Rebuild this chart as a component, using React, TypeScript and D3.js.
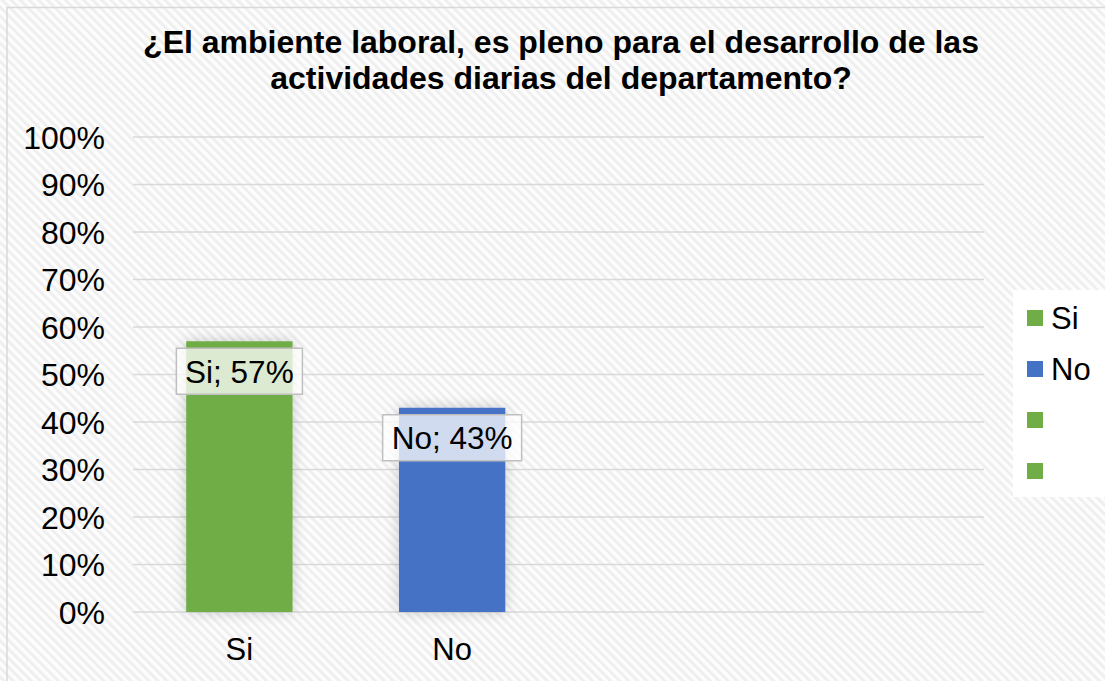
import React from "react";
import * as d3 from "d3";

const titleLines = [
  "¿El ambiente laboral, es pleno para el desarrollo de las",
  "actividades diarias del departamento?",
];
const categories = ["Si", "No", "", ""];
const values: (number | null)[] = [0.57, 0.43, null, null];
const barColors = ["#70AD47", "#4472C4", "#70AD47", "#70AD47"];
const legendLabels = ["Si", "No", "", ""];
const legendColors = ["#70AD47", "#4472C4", "#70AD47", "#70AD47"];
const yTicks = [0, 0.1, 0.2, 0.3, 0.4, 0.5, 0.6, 0.7, 0.8, 0.9, 1.0];

const W = 1105;
const H = 681;
const FONT = "'Liberation Sans', Arial, sans-serif";

export default function App() {
  const plotLeft = 133;
  const plotRight = 984;
  const plotTop = 137;
  const plotBottom = 612;

  const x = d3.scaleBand<string>()
    .domain(categories.map((c, i) => String(i)))
    .range([plotLeft, plotRight])
    .paddingInner(0.5)
    .paddingOuter(0.25);
  const y = d3.scaleLinear().domain([0, 1]).range([plotBottom, plotTop]);
  const fmt = d3.format(".0%");

  return (
    <svg
      width={W}
      height={H}
      style={{ position: "absolute", left: 0, top: 0, display: "block" }}
      fontFamily={FONT}
    >
      <defs>
        <pattern
          id="stripes"
          patternUnits="userSpaceOnUse"
          width={6.4}
          height={6.4}
          patternTransform="rotate(-45)"
        >
          <rect width={6.4} height={6.4} fill="#fdfdfd" />
          <rect width={3} height={6.4} fill="#efefef" />
        </pattern>
        <filter id="glow" x="-50%" y="-50%" width="200%" height="200%">
          <feGaussianBlur in="SourceAlpha" stdDeviation="7" result="blur" />
          <feFlood floodColor="#000" floodOpacity="0.2" />
          <feComposite in2="blur" operator="in" result="shadow" />
          <feMerge>
            <feMergeNode in="shadow" />
            <feMergeNode in="SourceGraphic" />
          </feMerge>
        </filter>
      </defs>

      <rect x={0} y={0} width={W} height={H} fill="url(#stripes)" />
      <rect
        x={7}
        y={7.5}
        width={W + 20}
        height={H + 20}
        fill="none"
        stroke="#d9d9d9"
        strokeWidth={1.5}
      />

      {titleLines.map((t, i) => (
        <text
          key={i}
          x={561}
          y={53 + i * 36}
          textAnchor="middle"
          fontSize={32}
          fontWeight="bold"
          fill="#000"
        >
          {t}
        </text>
      ))}

      {yTicks.map((t) => (
        <g key={t}>
          <line
            x1={plotLeft}
            x2={plotRight}
            y1={y(t)}
            y2={y(t)}
            stroke="#d9d9d9"
            strokeWidth={1.5}
          />
          <text
            x={105}
            y={y(t)}
            dy="0.36em"
            textAnchor="end"
            fontSize={32}
            fill="#000"
          >
            {fmt(t)}
          </text>
        </g>
      ))}

      {values.map((v, i) =>
        v == null ? null : (
          <rect
            key={i}
            x={x(String(i))}
            y={y(v)}
            width={x.bandwidth()}
            height={plotBottom - y(v)}
            fill={barColors[i]}
            filter="url(#glow)"
          />
        )
      )}

      {values.map((v, i) => {
        if (v == null) return null;
        const label = `${categories[i]}; ${fmt(v)}`;
        const cx = (x(String(i)) as number) + x.bandwidth() / 2;
        const cy = y(v) + 30;
        const w = i === 0 ? 126 : 139;
        const h = 46;
        return (
          <g key={"l" + i}>
            <rect
              x={cx - w / 2}
              y={cy - h / 2}
              width={w}
              height={h}
              fill="#fff"
              fillOpacity={0.75}
              stroke="#bfbfbf"
              strokeWidth={1.5}
            />
            <text
              x={cx}
              y={cy}
              dy="0.36em"
              textAnchor="middle"
              fontSize={31.5}
              fill="#000"
            >
              {label}
            </text>
          </g>
        );
      })}

      {categories.map((c, i) => (
        <text
          key={"c" + i}
          x={(x(String(i)) as number) + x.bandwidth() / 2}
          y={660}
          textAnchor="middle"
          fontSize={31}
          fill="#000"
        >
          {c}
        </text>
      ))}

      <rect x={1013} y={290} width={92} height={207} fill="#fff" />
      {legendLabels.map((l, i) => {
        const cy = 318 + i * 51;
        return (
          <g key={"lg" + i}>
            <rect x={1027} y={cy - 8} width={16} height={16} fill={legendColors[i]} />
            <text x={1051} y={cy} dy="0.36em" fontSize={31} fill="#000">
              {l}
            </text>
          </g>
        );
      })}
    </svg>
  );
}
